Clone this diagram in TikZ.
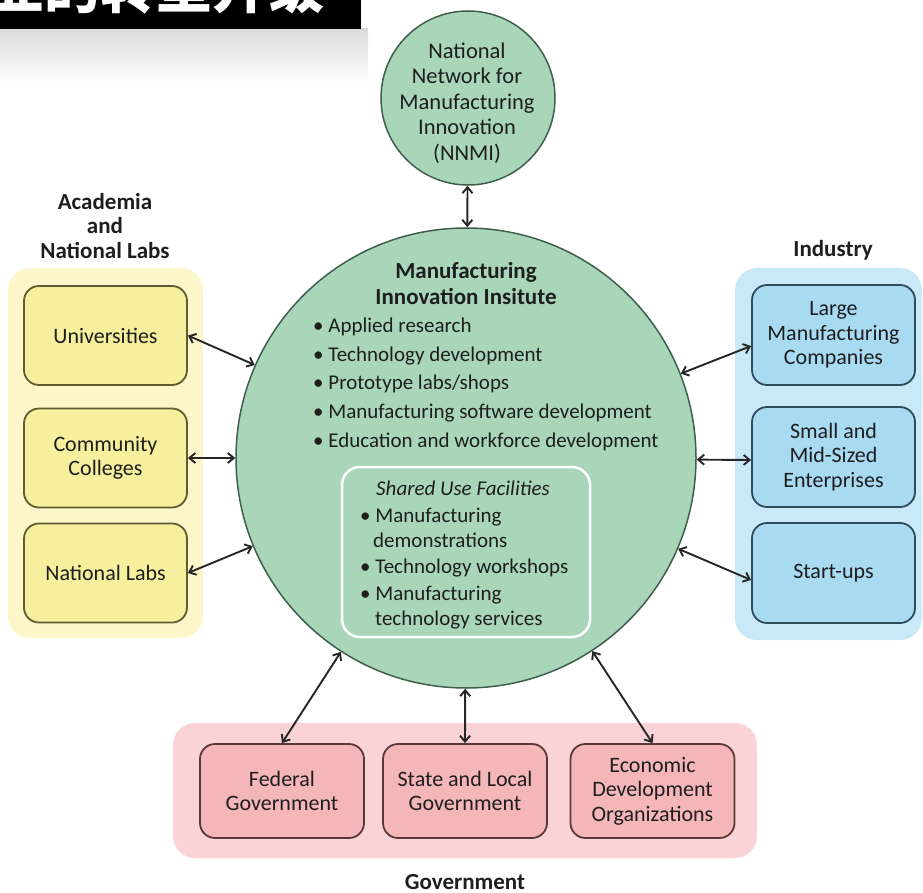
\documentclass[tikz,border=0pt]{standalone}
\usepackage{fontspec}
\setmainfont{Carlito}
\newfontfamily\cjk{Noto Sans CJK SC}
\usetikzlibrary{arrows.meta}
\definecolor{mint}{HTML}{A9D6B8}
\definecolor{mintline}{HTML}{3F5F4B}
\definecolor{ybg}{HTML}{FCF6CA}
\definecolor{ybox}{HTML}{F5EF9E}
\definecolor{yline}{HTML}{5E5C30}
\definecolor{bbg}{HTML}{C9E9F8}
\definecolor{bbox}{HTML}{A8DAF1}
\definecolor{bline}{HTML}{2E4B5A}
\definecolor{pbg}{HTML}{F9D3D5}
\definecolor{pbox}{HTML}{F4B6B9}
\definecolor{pline}{HTML}{5B3838}
\definecolor{ink}{HTML}{1E1E1E}
\tikzset{
  txt/.style={inner sep=0pt, text=ink, font=\fontsize{21}{25}\selectfont},
  ttl/.style={inner sep=0pt, text=ink, align=center, font=\bfseries\fontsize{23}{24.5}\selectfont},
  bg/.style={rounded corners=22pt, inner sep=0pt},
  gbox/.style={rounded corners=15pt, line width=1.8pt, inner sep=0pt, minimum width=163pt, align=center, text=ink, font=\fontsize{22}{24.5}\selectfont},
  ybx/.style={gbox, fill=ybox, draw=yline, minimum height=99pt},
  bbx/.style={gbox, fill=bbox, draw=bline, minimum height=100pt},
  pbx/.style={gbox, fill=pbox, draw=pline, minimum height=94pt, minimum width=164pt},
  link/.style={<->, >={Straight Barb[length=6pt,width=10pt]}, line width=1.9pt, draw=black!85},
}
\begin{document}
\begin{tikzpicture}[x=1pt,y=-1pt]
\useasboundingbox (0,0) rectangle (923,893);
\clip (0,0) rectangle (923,893);
% banner
\shade[top color=black!14, bottom color=white] (0,29) rectangle (368,84);
\fill[black] (0,0) rectangle (361,29);
\node[anchor=base west, inner sep=0pt, text=white, font=\cjk\bfseries\fontsize{56}{56}\selectfont] (banner) at (-12,9) {业的转型升级};
% group backgrounds
\node[bg, fill=ybg, minimum width=195pt, minimum height=370pt] (acbg) at (105.5,453) {};
\node[bg, fill=bbg, minimum width=187pt, minimum height=372pt] (inbg) at (828.5,454) {};
\node[bg, fill=pbg, minimum width=584pt, minimum height=135pt] (gvbg) at (465,790.5) {};
% titles
\node[ttl] (actitle) at (105,226) {Academia\\and\\National Labs};
\node[ttl, anchor=base] (intitle) at (833,257) {Industry};
\node[ttl, anchor=base] (gvtitle) at (465,889) {Government};
% circles
\node[circle, fill=mint, draw=mintline, line width=1.5pt, minimum size=174pt, inner sep=0pt] (nnmi) at (468,98) {};
\node[txt, align=center, font=\fontsize{22.5}{25.5}\selectfont] (nnmitext) at (467,103) {National\\Network for\\Manufacturing\\Innovation\\(NNMI)};
\node[circle, fill=mint, draw=mintline, line width=1.5pt, minimum size=460pt, inner sep=0pt] (mii) at (466,458) {};
% main circle text
\node[ttl, anchor=base] (mt1) at (466,279) {Manufacturing};
\node[ttl, anchor=base] (mt2) at (466,304) {Innovation Insitute};
\node[txt, anchor=base west] (l1) at (313,332) {• Applied research};
\node[txt, anchor=base west] (l2) at (313,361) {• Technology development};
\node[txt, anchor=base west] (l3) at (313,389) {• Prototype labs/shops};
\node[txt, anchor=base west] (l4) at (313,418) {• Manufacturing software development};
\node[txt, anchor=base west] (l5) at (313,447) {• Education and workforce development};
% shared use facilities
\node[rounded corners=18pt, draw=white, line width=2.5pt, minimum width=248pt, minimum height=170pt, inner sep=0pt] (sbox) at (466,552) {};
\node[txt, anchor=base, font=\itshape\fontsize{21}{25}\selectfont] (s0) at (463,495) {Shared Use Facilities};
\node[txt, anchor=base west] (s1) at (360,522) {• Manufacturing};
\node[txt, anchor=base west] (s2) at (373,547) {demonstrations};
\node[txt, anchor=base west] (s3) at (360,573) {• Technology workshops};
\node[txt, anchor=base west] (s4) at (360,600) {• Manufacturing};
\node[txt, anchor=base west] (s5) at (375,625) {technology services};
% academia boxes
\node[ybx] (uni) at (105.5,335.5) {Universities};
\node[ybx] (cc) at (105.5,458) {Community\\Colleges};
\node[ybx] (nl) at (105.5,573) {National Labs};
% industry boxes
\node[bbx] (lmc) at (833.5,335) {Large\\Manufacturing\\Companies};
\node[bbx] (sme) at (833.5,457) {Small and\\Mid-Sized\\Enterprises};
\node[bbx] (su) at (833.5,573) {Start-ups};
% government boxes
\node[pbx] (fed) at (282,791) {Federal\\Government};
\node[pbx] (slg) at (465,791) {State and Local\\Government};
\node[pbx] (edo) at (652.5,791) {Economic\\Development\\Organizations};
% connectors
\draw[link] (nnmi) -- (mii);
\draw[link] (uni.east) -- (mii);
\draw[link] (cc.east) -- (mii);
\draw[link] (nl.east) -- (mii);
\draw[link] ([yshift=-11pt]lmc.west) -- (mii);
\draw[link] ([yshift=-3pt]sme.west) -- (mii);
\draw[link] ([yshift=-7pt]su.west) -- (mii);
\draw[link] (fed.north) -- (mii);
\draw[link] (slg.north) -- (mii);
\draw[link] (edo.north) -- (mii);
\end{tikzpicture}
\end{document}
